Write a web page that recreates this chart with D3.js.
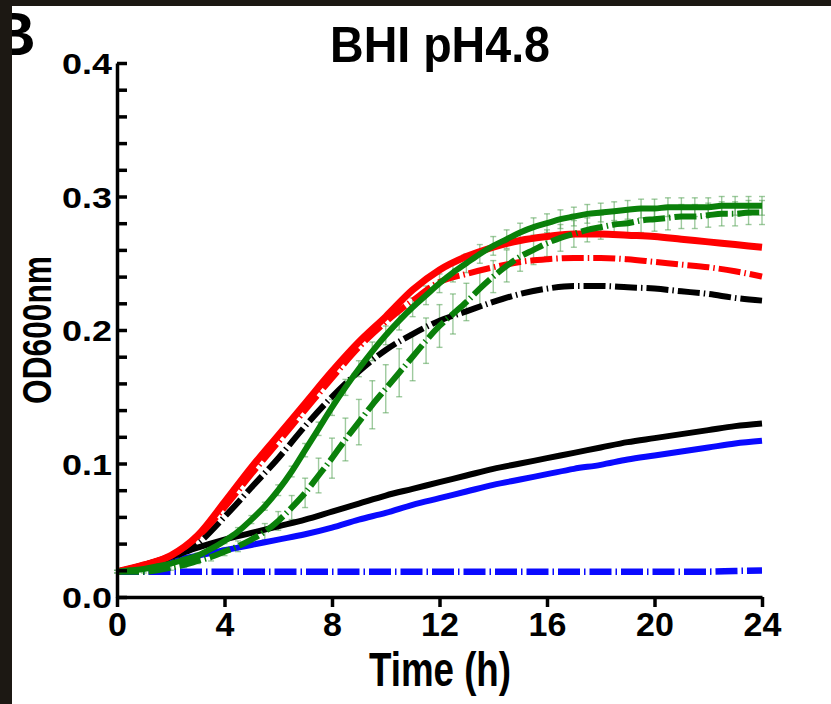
<!DOCTYPE html>
<html>
<head>
<meta charset="utf-8">
<script src="https://cdn.jsdelivr.net/npm/d3@7"></script>
<style>
  body { margin: 0; background: #fff; }
  svg { display: block; }
  text { font-family: "Liberation Sans", Arial, sans-serif; font-weight: bold; fill: #000; }
</style>
</head>
<body>
<svg id="chart" width="831" height="704"></svg>
<script>
// hourly readings
const hours = [0,1,2,3,4,5,6,7,8,9,10,11,12,13,14,15,16,17,18,19,20,21,22,23,24];
const redSolid   = [0.019,0.024,0.031,0.046,0.071,0.097,0.121,0.145,0.169,0.191,0.210,0.230,0.245,0.255,0.262,0.267,0.270,0.272,0.272,0.271,0.270,0.268,0.266,0.264,0.262];
const redDashed  = [0.019,0.024,0.031,0.045,0.067,0.092,0.116,0.140,0.164,0.187,0.206,0.222,0.236,0.242,0.247,0.251,0.253,0.254,0.254,0.253,0.251,0.249,0.247,0.244,0.240];
const blackDashed= [0.019,0.023,0.029,0.040,0.060,0.082,0.104,0.128,0.150,0.169,0.185,0.197,0.207,0.214,0.221,0.227,0.231,0.233,0.233,0.232,0.231,0.229,0.227,0.224,0.222];
const blackSolid = [0.019,0.024,0.030,0.037,0.043,0.048,0.053,0.058,0.064,0.070,0.076,0.081,0.086,0.091,0.096,0.100,0.104,0.108,0.112,0.116,0.119,0.122,0.125,0.128,0.130];
const blueSolid  = [0.019,0.023,0.027,0.031,0.035,0.039,0.043,0.047,0.052,0.058,0.063,0.069,0.074,0.079,0.084,0.088,0.092,0.096,0.099,0.103,0.106,0.109,0.112,0.115,0.117];
const blueDashed = [0.019,0.019,0.019,0.019,0.019,0.019,0.019,0.019,0.019,0.019,0.019,0.019,0.019,0.019,0.019,0.019,0.019,0.019,0.019,0.019,0.019,0.019,0.019,0.0195,0.0198];

// green strains were read every half hour (they carry the error bars)
const halfHours = [0,0.5,1,1.5,2,2.5,3,3.5,4,4.5,5,5.5,6,6.5,7,7.5,8,8.5,9,9.5,10,10.5,11,11.5,12,12.5,13,13.5,14,14.5,15,15.5,16,16.5,17,17.5,18,18.5,19,19.5,20,20.5,21,21.5,22,22.5,23,23.5,24];
const greenSolid = [0.019,0.020,0.021,0.023,0.025,0.028,0.031,0.036,0.042,0.049,0.058,0.068,0.080,0.094,0.110,0.126,0.142,0.157,0.171,0.184,0.196,0.207,0.217,0.226,0.235,0.243,0.250,0.257,0.263,0.268,0.273,0.277,0.280,0.283,0.285,0.287,0.288,0.289,0.290,0.291,0.291,0.292,0.292,0.292,0.292,0.293,0.293,0.293,0.293];
const greenSolidSD = [0.001,0.001,0.001,0.001,0.001,0.002,0.002,0.002,0.002,0.003,0.003,0.003,0.004,0.004,0.005,0.005,0.006,0.006,0.006,0.007,0.007,0.007,0.007,0.007,0.007,0.007,0.007,0.007,0.007,0.007,0.007,0.007,0.007,0.007,0.007,0.007,0.007,0.007,0.007,0.007,0.007,0.007,0.007,0.007,0.007,0.007,0.007,0.007,0.007];
const greenDashed = [0.019,0.019,0.019,0.020,0.022,0.024,0.027,0.030,0.034,0.038,0.043,0.049,0.057,0.067,0.078,0.091,0.104,0.118,0.131,0.144,0.156,0.168,0.180,0.192,0.203,0.212,0.221,0.231,0.240,0.248,0.255,0.260,0.265,0.269,0.272,0.275,0.277,0.279,0.280,0.282,0.283,0.284,0.285,0.285,0.286,0.287,0.287,0.288,0.288];
const greenDashedSD = [0.001,0.001,0.001,0.001,0.002,0.002,0.002,0.003,0.003,0.004,0.005,0.006,0.007,0.009,0.011,0.013,0.015,0.016,0.017,0.018,0.018,0.018,0.018,0.017,0.016,0.015,0.014,0.013,0.012,0.012,0.011,0.011,0.010,0.010,0.010,0.009,0.009,0.009,0.009,0.009,0.009,0.009,0.009,0.009,0.009,0.009,0.009,0.009,0.009];

const xTicks = [0,4,8,12,16,20,24];
const yTicks = [0,0.02,0.04,0.06,0.08,0.1,0.12,0.14,0.16,0.18,0.2,0.22,0.24,0.26,0.28,0.3,0.32,0.34,0.36,0.38,0.4];
const yLabelled = [0,0.1,0.2,0.3,0.4];

const svg = d3.select("#chart");
const x = d3.scaleLinear().domain([0, 24]).range([117, 762]);
const y = d3.scaleLinear().domain([0, 0.4]).range([597, 63]);

// panel letter (partly hidden by the dark frame, as in the scan)
svg.append("text").attr("x", -9).attr("y", 55).attr("font-size", 62).text("B");

// title and axis names
svg.append("text").attr("x", 440).attr("y", 62).attr("text-anchor", "middle")
  .attr("font-size", 50).attr("textLength", 220).attr("lengthAdjust", "spacingAndGlyphs")
  .text("BHI pH4.8");
svg.append("text").attr("x", 440).attr("y", 686).attr("text-anchor", "middle")
  .attr("font-size", 48).attr("textLength", 142).attr("lengthAdjust", "spacingAndGlyphs")
  .text("Time (h)");
svg.append("text").attr("transform", "translate(51,330) rotate(-90)").attr("text-anchor", "middle")
  .attr("font-size", 40).attr("textLength", 148).attr("lengthAdjust", "spacingAndGlyphs")
  .text("OD600nm");

// error bars under the green curves
function errorBars(xs, vals, sds) {
  const g = svg.append("g").attr("stroke", "#4f9f4f").attr("stroke-opacity", 0.55).attr("stroke-width", 1.4);
  xs.forEach((t, i) => {
    const cx = x(t), lo = y(vals[i] - sds[i]), hi = y(vals[i] + sds[i]);
    g.append("line").attr("x1", cx).attr("x2", cx).attr("y1", lo).attr("y2", hi);
    g.append("line").attr("x1", cx - 3).attr("x2", cx + 3).attr("y1", lo).attr("y2", lo);
    g.append("line").attr("x1", cx - 3).attr("x2", cx + 3).attr("y1", hi).attr("y2", hi);
  });
}
errorBars(halfHours, greenDashed, greenDashedSD);
errorBars(halfHours, greenSolid, greenSolidSD);

const line = d3.line().x(d => x(d[0])).y(d => y(d[1])).curve(d3.curveMonotoneX);
const dashStyle = "22,4,1.5,4";

function drawSeries(xs, vals, colour, width, dashed) {
  svg.append("path")
    .datum(xs.map((t, i) => [t, vals[i]]))
    .attr("fill", "none")
    .attr("stroke", colour)
    .attr("stroke-width", width)
    .attr("stroke-linejoin", "round")
    .attr("stroke-dasharray", dashed ? dashStyle : null)
    .attr("d", line);
}

drawSeries(hours, blueDashed, "#0a0aff", 6.5, true);
drawSeries(hours, blueSolid, "#0a0aff", 6, false);
drawSeries(hours, blackSolid, "#000", 6, false);
drawSeries(hours, blackDashed, "#000", 6, true);
drawSeries(hours, redSolid, "#ff0000", 7, false);
drawSeries(hours, redDashed, "#ff0000", 6, true);
drawSeries(halfHours, greenDashed, "#0a800a", 6, true);
drawSeries(halfHours, greenSolid, "#0a800a", 6, false);

// axes
const yAxis = d3.axisLeft(y)
  .tickValues(yTicks)
  .tickSizeInner(-10)
  .tickSizeOuter(0)
  .tickPadding(5)
  .tickFormat(d => yLabelled.some(v => Math.abs(v - d) < 1e-9) ? d3.format(".1f")(d) : "");
const gy = svg.append("g").attr("transform", "translate(117,0)").call(yAxis);
gy.selectAll("path, line").attr("stroke", "#000").attr("stroke-width", 3.5);
gy.selectAll("text").attr("font-size", 30).attr("font-family", null).attr("dy", "0.36em")
  .attr("textLength", d => yLabelled.some(v => Math.abs(v - d) < 1e-9) ? 50 : null)
  .attr("lengthAdjust", "spacingAndGlyphs");

const xAxis = d3.axisBottom(x).tickValues(xTicks).tickSizeInner(10).tickSizeOuter(0).tickPadding(5);
const gx = svg.append("g").attr("transform", "translate(0,597)").call(xAxis);
gx.selectAll("path, line").attr("stroke", "#000").attr("stroke-width", 3.5);
gx.selectAll("text").attr("font-size", 34).attr("font-family", null);
gy.raise();

// dark scan frame on top and left
svg.append("rect").attr("x", 0).attr("y", 0).attr("width", 831).attr("height", 6).attr("fill", "#1c1813");
svg.append("rect").attr("x", 0).attr("y", 0).attr("width", 12).attr("height", 704).attr("fill", "#1c1813");
</script>
</body>
</html>
